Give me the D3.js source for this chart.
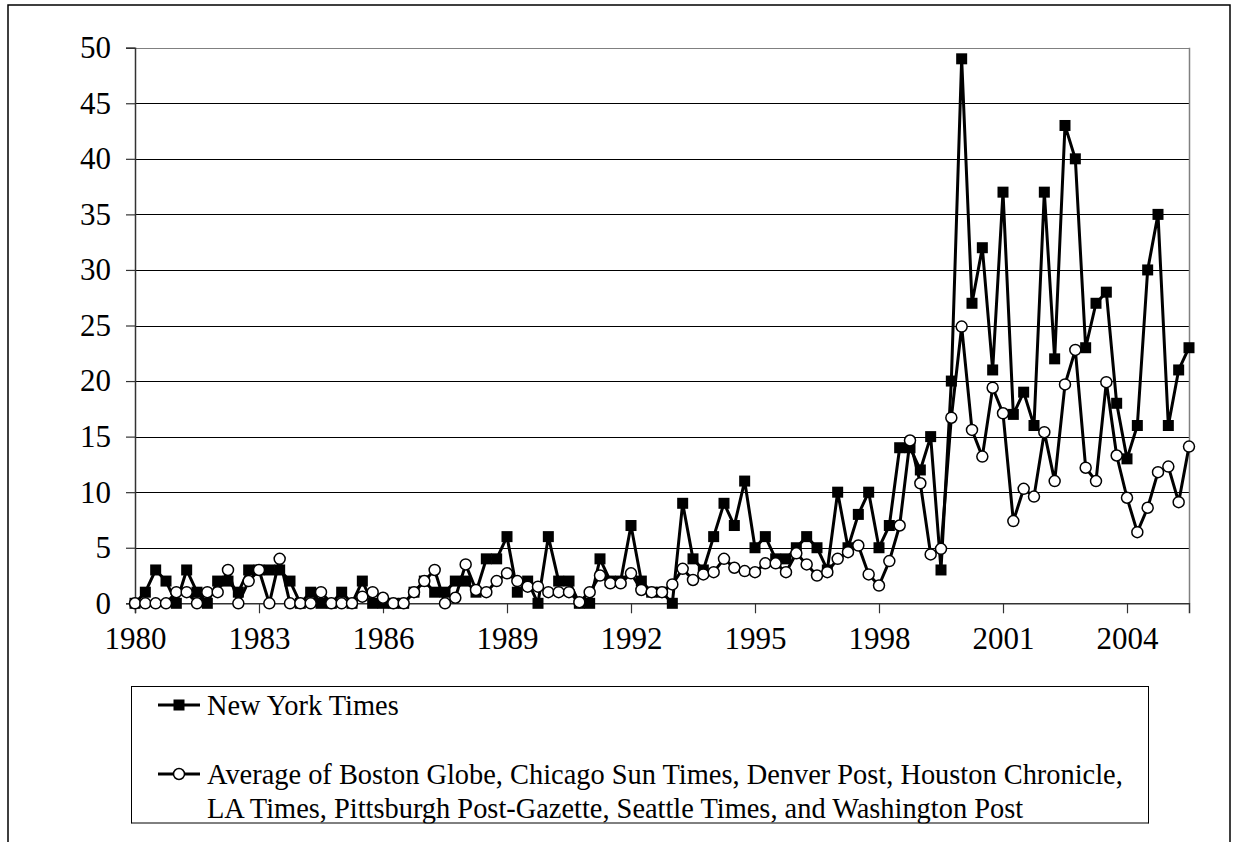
<!DOCTYPE html>
<html><head><meta charset="utf-8">
<script src="https://cdn.jsdelivr.net/npm/d3@7"></script>
<style>body{margin:0;background:#fff} svg{display:block}</style>
</head><body>
<svg id="chart" width="1238" height="842"></svg>
<script>
// Quarterly categories 1980 Q1 .. 2005 Q3
const years = d3.range(1980, 2006);
const categories = years.flatMap(y => ["Q1","Q2","Q3","Q4"].map(q => y + " " + q)).slice(0, 103);

const nytValues = [
  0,1,3,2,0,3,1,0,2,2,1,3,3,3,3,2,0,1,
  0,0,1,0,2,0,0,0,0,
  1,2,1,1,2,2,1,4,4,6,
  1,2,0,6,2,2,0,0,4,2,2,7,2,1,1,0,9,4,
  3,6,9,7,11,5,6,4,4,5,6,5,3,10,5,8,10,5,7,
  14,14,12,15,3,20,49,27,32,21,37,17,19,16,37,22,43,40,23,27,28,18,13,16,30,35,16,21,23
];
const avgValues = [
  0,0,0,0,1,1,0,1,1,3,0,2,3,0,4,0,0,0,
  1,0,0,0,0.6,1,0.5,0,0,
  1,2,3,0,0.5,3.5,1.2,1,2,2.7,
  2,1.5,1.5,1,1,1,0.1,1,2.5,1.8,1.8,2.7,1.2,1,1,1.7,3.1,2.1,
  2.6,2.8,4,3.2,2.9,2.8,3.6,3.6,2.8,4.5,3.5,2.5,2.8,4,4.6,5.2,2.6,1.6,3.8,
  7.0,14.65,10.8,4.4,4.9,16.7,24.9,15.6,13.2,19.4,17.1,7.4,10.3,9.6,15.4,11.0,19.7,22.8,12.2,11.0,19.9,13.3,9.5,6.4,8.6,11.8,12.3,9.1,14.1
];
const yTickValues = [0,5,10,15,20,25,30,35,40,45,50];
const xTickLabels = ["1980","1983","1986","1989","1992","1995","1998","2001","2004"];
const seriesNames = ["New York Times"];
const avgLegendLines = [
  "Average of Boston Globe, Chicago Sun Times, Denver Post, Houston Chronicle,",
  "LA Times, Pittsburgh Post-Gazette, Seattle Times, and Washington Post"
];

const svg = d3.select("#chart");
const font = "'Liberation Serif','Times New Roman',serif";
const L = 135, R = 1189, T = 47.7, B = 603.3;

const x = d3.scalePoint().domain(categories).range([L, R]);
const y = d3.scaleLinear().domain([0, 50]).range([B, T]);

// outer chart border
svg.append("rect").attr("x", 8).attr("y", 5).attr("width", 1222).attr("height", 860)
  .attr("fill", "none").attr("stroke", "#000").attr("stroke-width", 1.5);

// gridlines
svg.append("g").selectAll("line").data(yTickValues.filter(v => v > 0)).join("line")
  .attr("x1", L).attr("x2", R).attr("y1", d => Math.round(y(d)) + 0.5).attr("y2", d => Math.round(y(d)) + 0.5)
  .attr("stroke", d => d === 50 ? "#808080" : "#000").attr("stroke-width", 1);

// plot area right border
svg.append("line").attr("x1", R + 0.5).attr("x2", R + 0.5).attr("y1", T).attr("y2", B)
  .attr("stroke", "#808080").attr("stroke-width", 1.5);

// y axis
const yAxis = svg.append("g").attr("transform", `translate(${L},0)`)
  .call(d3.axisLeft(y).tickValues(yTickValues).tickSize(9).tickPadding(15).tickFormat(d3.format("d")));
yAxis.select(".domain").attr("stroke", "#333").attr("stroke-width", 1.5);
yAxis.selectAll(".tick line").attr("stroke", "#333").attr("stroke-width", 1.2);
yAxis.selectAll("text").attr("font-family", font).attr("font-size", 31).attr("fill", "#000");

// x axis
const xTickCats = xTickLabels.map(lbl => lbl + " Q1");
const xAxis = svg.append("g").attr("transform", `translate(0,${B})`)
  .call(d3.axisBottom(x).tickValues(xTickCats).tickSize(10).tickPadding(14).tickFormat(d => d.slice(0, 4)));
xAxis.select(".domain").attr("stroke", "#333").attr("stroke-width", 1.5);
xAxis.selectAll(".tick line").attr("stroke", "#333").attr("stroke-width", 1.2);
xAxis.selectAll("text").attr("font-family", font).attr("font-size", 31).attr("fill", "#000");

// series
const line = d3.line().x((d, i) => x(categories[i])).y(d => y(d));

svg.append("path").datum(nytValues).attr("d", line).attr("fill", "none")
  .attr("stroke", "#000").attr("stroke-width", 3).attr("stroke-linejoin", "round");
svg.append("g").selectAll("rect").data(nytValues).join("rect")
  .attr("x", (d, i) => x(categories[i]) - 5.5).attr("y", d => y(d) - 5.5)
  .attr("width", 11).attr("height", 11).attr("fill", "#000");

svg.append("path").datum(avgValues).attr("d", line).attr("fill", "none")
  .attr("stroke", "#000").attr("stroke-width", 3).attr("stroke-linejoin", "round");
svg.append("g").selectAll("circle").data(avgValues).join("circle")
  .attr("cx", (d, i) => x(categories[i])).attr("cy", d => y(d)).attr("r", 5.5)
  .attr("fill", "#fff").attr("stroke", "#000").attr("stroke-width", 1.5);

// legend
const lg = svg.append("g");
lg.append("rect").attr("x", 131.5).attr("y", 686.5).attr("width", 1017).attr("height", 336)
  .attr("fill", "#fff").attr("stroke", "#000").attr("stroke-width", 1);
// clip bottom of legend box at 823
svg.append("rect").attr("x", 131).attr("y", 823.5).attr("width", 1019).attr("height", 30).attr("fill", "#fff");
svg.append("line").attr("x1", 131.5).attr("x2", 1148.5).attr("y1", 823).attr("y2", 823).attr("stroke", "#000");

const e1y = 705;
lg.append("line").attr("x1", 158).attr("x2", 200).attr("y1", e1y).attr("y2", e1y).attr("stroke", "#000").attr("stroke-width", 3);
lg.append("rect").attr("x", 173.5).attr("y", e1y - 5.5).attr("width", 11).attr("height", 11).attr("fill", "#000");
lg.append("text").attr("x", 207).attr("y", e1y + 9.5).attr("font-family", font).attr("font-size", 28.4).text(seriesNames[0]);

const e2y = 774;
lg.append("line").attr("x1", 158).attr("x2", 200).attr("y1", e2y).attr("y2", e2y).attr("stroke", "#000").attr("stroke-width", 3);
lg.append("circle").attr("cx", 179).attr("cy", e2y).attr("r", 5.5).attr("fill", "#fff").attr("stroke", "#000").attr("stroke-width", 1.5);
lg.append("text").attr("font-family", font).attr("font-size", 28.4)
  .selectAll("tspan").data(avgLegendLines).join("tspan")
  .attr("x", 207).attr("y", (d, i) => e2y + 9.5 + i * 34).text(d => d);
</script>
</body></html>
